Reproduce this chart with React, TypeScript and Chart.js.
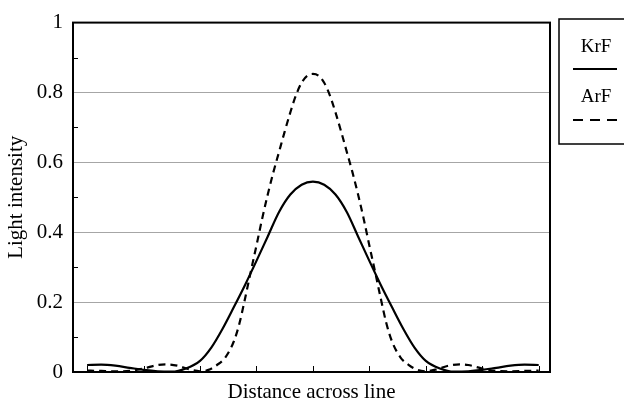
import React, { useEffect, useRef } from "react";
import { Chart, registerables } from "chart.js";

Chart.register(...registerables);

// Distance across line (relative units, 0 = line centre)
const krfX = [-4, -3.75, -3.5, -3.25, -3, -2.75, -2.5, -2.25, -2, -1.8, -1.6, -1.4, -1.2, -1, -0.8, -0.6, -0.4, -0.2, 0,
  0.2, 0.4, 0.6, 0.8, 1, 1.2, 1.4, 1.6, 1.8, 2, 2.25, 2.5, 2.75, 3, 3.25, 3.5, 3.75, 4];
const krfY = [0.020, 0.021, 0.018, 0.012, 0.006, 0.002, 0.001, 0.010, 0.032, 0.070, 0.124, 0.186, 0.250, 0.318, 0.388, 0.458, 0.508, 0.536, 0.545,
  0.536, 0.508, 0.458, 0.388, 0.318, 0.250, 0.186, 0.124, 0.070, 0.032, 0.010, 0.001, 0.002, 0.006, 0.012, 0.018, 0.021, 0.020];

const arfX = [-4, -3.75, -3.5, -3.25, -3, -2.75, -2.6, -2.4, -2.2, -2, -1.85, -1.7, -1.55, -1.4, -1.3, -1.2, -1.1, -1, -0.9, -0.8, -0.7, -0.6, -0.5, -0.4, -0.3, -0.2, -0.1, 0,
  0.1, 0.2, 0.3, 0.4, 0.5, 0.6, 0.7, 0.8, 0.9, 1, 1.1, 1.2, 1.3, 1.4, 1.55, 1.7, 1.85, 2, 2.2, 2.4, 2.6, 2.75, 3, 3.25, 3.5, 3.75, 4];
const arfY = [0.004, 0.003, 0.002, 0.003, 0.010, 0.020, 0.022, 0.018, 0.008, 0.002, 0.006, 0.020, 0.042, 0.088, 0.140, 0.212, 0.288, 0.362, 0.438, 0.508, 0.572, 0.630, 0.688, 0.743, 0.792, 0.828, 0.848, 0.853,
  0.848, 0.828, 0.792, 0.743, 0.688, 0.630, 0.572, 0.508, 0.438, 0.362, 0.288, 0.212, 0.140, 0.088, 0.042, 0.020, 0.006, 0.002, 0.008, 0.018, 0.022, 0.020, 0.010, 0.003, 0.002, 0.003, 0.004];

const xTicks = [-4, -3, -2, -1, 0, 1, 2, 3, 4];
const yMajor = [0, 0.2, 0.4, 0.6, 0.8, 1];
const yMinor = [0.1, 0.3, 0.5, 0.7, 0.9];
const seriesNames = ["KrF", "ArF"];

const FONT = "'Liberation Serif', 'Times New Roman', serif";

export default function App() {
  const ref = useRef<HTMLCanvasElement | null>(null);

  useEffect(() => {
    const canvas = ref.current;
    if (!canvas) return;

    const framePlugin = {
      id: "frame",
      afterDraw(chart: any) {
        const { ctx, chartArea } = chart;
        const xs = chart.scales.x;
        const ys = chart.scales.y;
        ctx.save();
        ctx.strokeStyle = "#000";
        ctx.lineWidth = 1;
        for (const t of xTicks) {
          const px = Math.round(xs.getPixelForValue(t)) + 0.5;
          ctx.beginPath();
          ctx.moveTo(px, chartArea.bottom);
          ctx.lineTo(px, chartArea.bottom - 6);
          ctx.stroke();
        }
        for (const t of yMinor) {
          const py = Math.round(ys.getPixelForValue(t)) + 0.5;
          ctx.beginPath();
          ctx.moveTo(chartArea.left, py);
          ctx.lineTo(chartArea.left + 5, py);
          ctx.stroke();
        }
        ctx.lineWidth = 2;
        ctx.strokeRect(chartArea.left, chartArea.top, chartArea.right - chartArea.left, chartArea.bottom - chartArea.top);

        // legend box
        const lx = 559, ly = 19, lw = 80, lh = 125;
        ctx.lineWidth = 1.5;
        ctx.strokeRect(lx, ly, lw, lh);
        ctx.fillStyle = "#000";
        ctx.font = `19px ${FONT}`;
        ctx.textAlign = "center";
        ctx.textBaseline = "middle";
        ctx.fillText(seriesNames[0], 596, 47);
        ctx.fillText(seriesNames[1], 596, 97);
        ctx.lineWidth = 2.2;
        ctx.beginPath();
        ctx.moveTo(573, 69);
        ctx.lineTo(617, 69);
        ctx.stroke();
        ctx.setLineDash([10, 7]);
        ctx.beginPath();
        ctx.moveTo(573, 120);
        ctx.lineTo(617, 120);
        ctx.stroke();
        ctx.restore();
      },
    };

    const chart = new Chart(canvas, {
      type: "line",
      data: {
        datasets: [
          {
            label: seriesNames[0],
            data: krfX.map((x, i) => ({ x, y: krfY[i] })),
            borderColor: "#000",
            borderWidth: 2.2,
            pointRadius: 0,
            cubicInterpolationMode: "monotone",
            fill: false,
          },
          {
            label: seriesNames[1],
            data: arfX.map((x, i) => ({ x, y: arfY[i] })),
            borderColor: "#000",
            borderWidth: 2.2,
            borderDash: [7, 5],
            pointRadius: 0,
            cubicInterpolationMode: "monotone",
            fill: false,
          },
        ],
      },
      options: {
        animation: false,
        responsive: false,
        maintainAspectRatio: false,
        layout: { padding: { top: 19, right: 74, left: 0, bottom: 0 } },
        plugins: { legend: { display: false }, tooltip: { enabled: false } },
        scales: {
          x: {
            type: "linear",
            min: -4.25,
            max: 4.2,
            grid: { display: false, drawTicks: false },
            border: { display: false },
            ticks: { display: false },
            title: {
              display: true,
              text: "Distance across line",
              color: "#000",
              font: { family: FONT, size: 21 },
              padding: { top: 0, bottom: 3 },
            },
            afterFit(scale: any) {
              scale.height = 36;
            },
          },
          y: {
            type: "linear",
            min: 0,
            max: 1,
            afterBuildTicks(scale: any) {
              scale.ticks = yMajor.map((v) => ({ value: v }));
            },
            grid: {
              drawTicks: false,
              color: (c: any) => {
                const v = c.tick ? c.tick.value : -1;
                return v > 0.01 && v < 0.99 ? "#a6a6a6" : "rgba(0,0,0,0)";
              },
              lineWidth: 1,
            },
            border: { display: false },
            ticks: {
              color: "#000",
              padding: 10,
              font: { family: FONT, size: 21 },
              callback: (v: any) => String(Math.round(Number(v) * 10) / 10),
            },
            title: {
              display: true,
              text: "Light intensity",
              color: "#000",
              font: { family: FONT, size: 21 },
              padding: { top: 4, bottom: 0 },
            },
            afterFit(scale: any) {
              scale.width = 73;
            },
          },
        },
      },
      plugins: [framePlugin],
    });

    return () => chart.destroy();
  }, []);

  return (
    <div style={{ position: "absolute", left: 0, top: 0, width: 624, height: 408, background: "#fff" }}>
      <canvas ref={ref} width={624} height={408} style={{ width: 624, height: 408, display: "block" }} />
    </div>
  );
}
